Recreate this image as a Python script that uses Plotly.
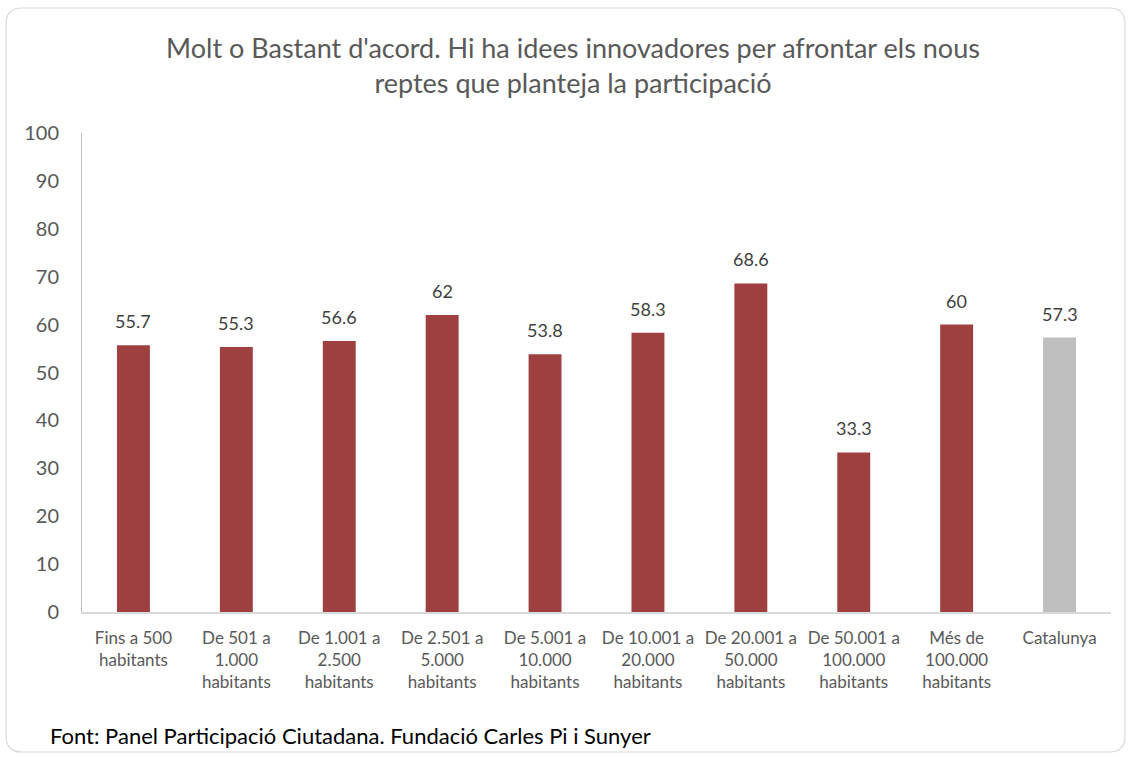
import plotly.graph_objects as go

categories = [
    "Fins a 500<br>habitants",
    "De 501 a<br>1.000<br>habitants",
    "De 1.001 a<br>2.500<br>habitants",
    "De 2.501 a<br>5.000<br>habitants",
    "De 5.001 a<br>10.000<br>habitants",
    "De 10.001 a<br>20.000<br>habitants",
    "De 20.001 a<br>50.000<br>habitants",
    "De 50.001 a<br>100.000<br>habitants",
    "Més de<br>100.000<br>habitants",
    "Catalunya",
]
values = [55.7, 55.3, 56.6, 62, 53.8, 58.3, 68.6, 33.3, 60, 57.3]
labels = ["55.7", "55.3", "56.6", "62", "53.8", "58.3", "68.6", "33.3", "60", "57.3"]

W, H = 1129, 757
ML, MR, MT, MB = 82, 18, 133, 145
PW, PH = W - ML - MR, H - MT - MB

RED = "#9E4040"
GREY = "#BFBFBF"
TXT = "#595959"
FONT = "Lato, 'Open Sans', sans-serif"


def px(x, y):
    # pixel -> paper coords
    return (x - ML) / PW, (H - MB - y) / PH


def rounded_box(x0, y0, x1, y1, r):
    def P(x, y):
        a, b = px(x, y)
        return f"{a:.5f},{b:.5f}"
    return (f"M {P(x0 + r, y0)} L {P(x1 - r, y0)} Q {P(x1, y0)} {P(x1, y0 + r)} "
            f"L {P(x1, y1 - r)} Q {P(x1, y1)} {P(x1 - r, y1)} "
            f"L {P(x0 + r, y1)} Q {P(x0, y1)} {P(x0, y1 - r)} "
            f"L {P(x0, y0 + r)} Q {P(x0, y0)} {P(x0 + r, y0)} Z")


colors = [RED] * (len(values) - 1) + [GREY]

fig = go.Figure()
fig.add_trace(go.Bar(
    x=categories, y=values, marker=dict(color=colors, line=dict(width=0)),
    width=0.32, hoverinfo="x+y",
))

for c, v, t in zip(categories, values, labels):
    fig.add_annotation(x=c, y=v, text=t, showarrow=False, yanchor="bottom",
                       yshift=11, font=dict(size=18, color="#404040", family=FONT))

fig.add_shape(type="path", xref="paper", yref="paper", layer="below",
              path=rounded_box(6, 8, 1125, 752, 16),
              line=dict(color="#D9D9D9", width=1.2))

fig.add_annotation(xref="paper", yref="paper", x=px(48, 0)[0], y=px(0, 735)[1],
                   xanchor="left", yanchor="middle", showarrow=False,
                   text="Font: Panel Participació Ciutadana. Fundació Carles Pi i Sunyer",
                   font=dict(size=22, color="#000000", family=FONT))

fig.update_layout(
    width=W, height=H,
    margin=dict(l=ML, r=MR, t=MT, b=MB),
    paper_bgcolor="white", plot_bgcolor="white",
    font=dict(family=FONT, color=TXT),
    showlegend=False,
    title=dict(
        text="Molt o Bastant d'acord. Hi ha idees innovadores per afrontar els nous<br>"
             "reptes que planteja la participació",
        x=573 / W, xanchor="center", y=1 - 58 / H, yanchor="middle",
        font=dict(size=27, color=TXT, family=FONT),
    ),
)
fig.update_yaxes(range=[0, 100], dtick=10, showgrid=False, zeroline=False,
                 showline=True, linecolor="#BFBFBF", linewidth=1,
                 ticks="", ticklabelstandoff=18,
                 tickfont=dict(size=20, color=TXT, family=FONT))
fig.update_xaxes(showgrid=False, showline=True, linecolor="#D9D9D9", linewidth=1.5,
                 ticks="", ticklabelstandoff=10,
                 tickfont=dict(size=17, color=TXT, family=FONT))

fig.write_html("out.html", config={"displayModeBar": False},
               post_script="document.body.style.margin='0';")
